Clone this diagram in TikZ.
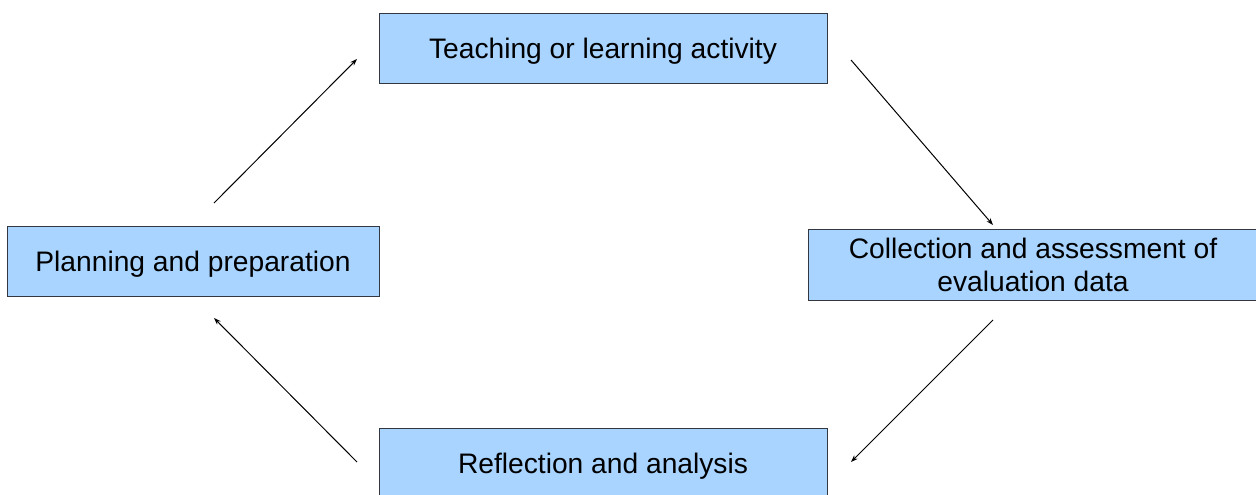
\documentclass[tikz,border=0pt]{standalone}
\usepackage{fontspec}
\setmainfont{Liberation Sans}
\usetikzlibrary{arrows.meta}
\definecolor{boxfill}{RGB}{168,212,255}
\definecolor{boxline}{RGB}{50,55,65}
\begin{document}
\begin{tikzpicture}[x=0.5pt,y=-0.5pt,
  stage/.style={draw=boxline,line width=0.5pt,fill=boxfill,rectangle,
    inner sep=0pt,minimum height=35pt,align=center,
    font=\fontsize{14.1}{16.2}\selectfont},
  oneline/.style={text height=11pt,text depth=0.8pt},
  flow/.style={line width=0.5pt,-{Stealth[length=3.5pt,width=2.5pt]}}]
\clip (0,0) rectangle (1256,494);
% the four stages of the cycle
\node[stage,oneline,minimum width=224pt] (teach) at (603,48) {Teaching or learning activity};
\node[stage,oneline,minimum width=186pt] (plan) at (193,261) {Planning and preparation};
\node[stage,minimum width=225pt,minimum height=35.5pt] (collect) at (1033,265)
  {Collection and assessment of\\evaluation data};
\node[stage,oneline,minimum width=224pt] (reflect) at (603,463) {Reflection and analysis};
% arrow end points
\coordinate (p1) at (214,203);
\coordinate (t1) at (357,59);
\coordinate (t2) at (851,60);
\coordinate (c1) at (993,225);
\coordinate (c2) at (993,320);
\coordinate (r1) at (851,462);
\coordinate (r2) at (357,462);
\coordinate (p2) at (214,318);
\draw[flow] (p1) -- (t1);
\draw[flow] (t2) -- (c1);
\draw[flow] (c2) -- (r1);
\draw[flow] (r2) -- (p2);
\end{tikzpicture}
\end{document}
